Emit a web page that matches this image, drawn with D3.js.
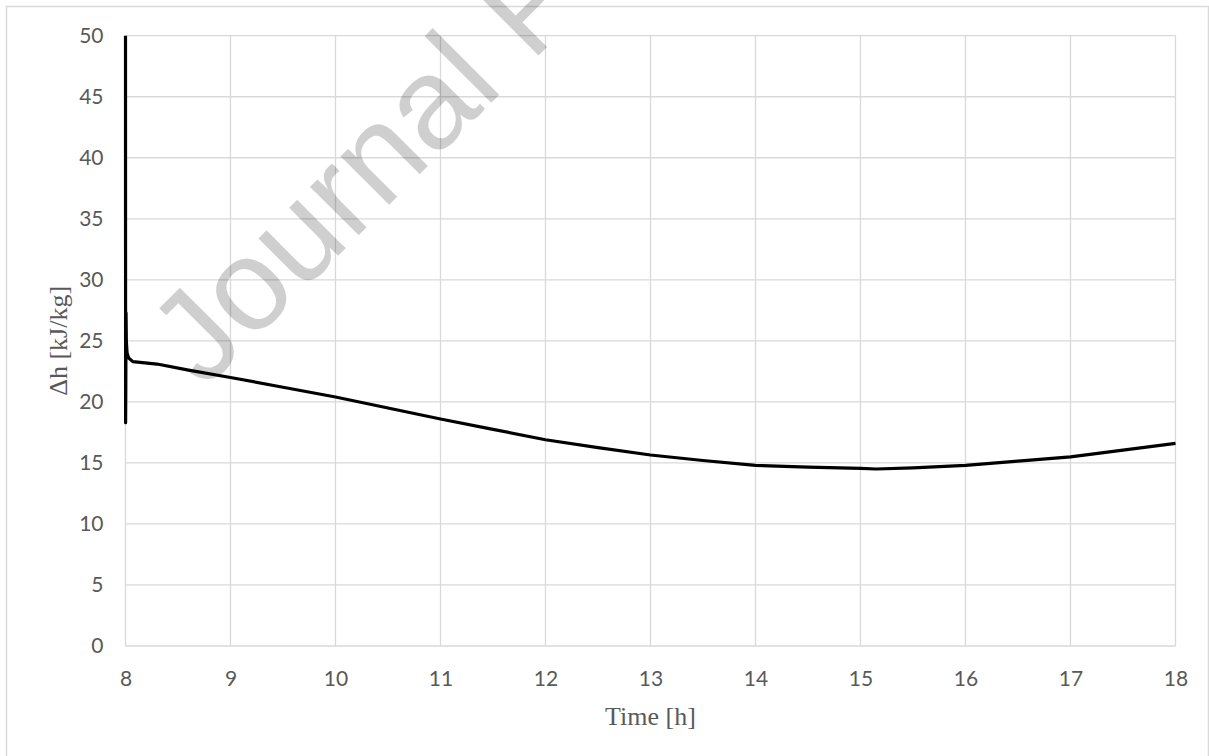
<!DOCTYPE html>
<html>
<head>
<meta charset="utf-8">
<script src="https://cdn.jsdelivr.net/npm/d3@7"></script>
<style>
  body { margin: 0; background: #fff; }
  svg { display: block; }
</style>
</head>
<body>
<svg id="svg"></svg>
<script>
var width = 1209;
var height = 756;

// time in hours, enthalpy difference in kJ/kg
var times = [8, 8.001, 8.003, 8.005, 8.008, 8.015, 8.03, 8.07, 8.3, 8.6, 9, 9.5, 10, 10.5, 11, 11.5, 12, 12.5, 13, 13.5, 14, 14.5, 15, 15.15, 15.5, 16, 16.5, 17, 17.5, 18];
var dh = [50, 18.3, 21.3, 27.3, 25.0, 24.0, 23.6, 23.3, 23.1, 22.6, 22.0, 21.2, 20.4, 19.5, 18.6, 17.75, 16.9, 16.25, 15.65, 15.2, 14.8, 14.65, 14.55, 14.5, 14.6, 14.8, 15.15, 15.5, 16.05, 16.6];

var xTicks = [8, 9, 10, 11, 12, 13, 14, 15, 16, 17, 18];
var yTicks = [0, 5, 10, 15, 20, 25, 30, 35, 40, 45, 50];

var data = times.map((t, i) => ({ t: t, v: dh[i] }));

var svg = d3.select("#svg")
    .attr("width", width)
    .attr("height", height);

// outer chart border
svg.append("rect")
    .attr("x", 6.5).attr("y", 6.5)
    .attr("width", 1202).attr("height", 770)
    .attr("fill", "none")
    .attr("stroke", "#d9d9d9")
    .attr("stroke-width", 1.5);

var x = d3.scaleLinear().domain([8, 18]).range([125.5, 1175.5]);
var y = d3.scaleLinear().domain([0, 50]).range([646, 35.7]);

// grid
svg.append("g")
    .attr("stroke", "#d9d9d9")
    .attr("stroke-width", 1.3)
  .selectAll()
  .data(yTicks)
  .join("line")
    .attr("x1", x(8)).attr("x2", x(18))
    .attr("y1", d => y(d)).attr("y2", d => y(d));

svg.append("g")
    .attr("stroke", "#d9d9d9")
    .attr("stroke-width", 1.3)
  .selectAll()
  .data(xTicks)
  .join("line")
    .attr("x1", d => x(d)).attr("x2", d => x(d))
    .attr("y1", y(0)).attr("y2", y(50));

// axes (labels only, Excel style)
var xAxis = svg.append("g")
    .attr("transform", `translate(0,${y(0)})`)
    .call(d3.axisBottom(x).tickValues(xTicks).tickSize(0).tickPadding(25).tickFormat(d3.format("d")));
var yAxis = svg.append("g")
    .attr("transform", `translate(${x(8)},0)`)
    .call(d3.axisLeft(y).tickValues(yTicks).tickSize(0).tickPadding(22).tickFormat(d3.format("d")));

[xAxis, yAxis].forEach(a => {
  a.select(".domain").remove();
  a.selectAll("text")
      .attr("fill", "#595959")
      .style("font-family", "Lato, 'Open Sans', sans-serif")
      .style("font-size", "21px");
});

// axis titles
svg.append("text")
    .attr("x", x(13)).attr("y", 725)
    .attr("text-anchor", "middle")
    .attr("fill", "#595959")
    .style("font-family", "'Liberation Serif', 'Times New Roman', serif")
    .style("font-size", "26px")
    .text("Time [h]");

svg.append("text")
    .attr("transform", `translate(67,${(y(0) + y(50)) / 2}) rotate(-90)`)
    .attr("text-anchor", "middle")
    .attr("fill", "#595959")
    .style("font-family", "'Liberation Serif', 'Times New Roman', serif")
    .style("font-size", "26px")
    .text("\u0394h [kJ/kg]");

// data line
var line = d3.line()
    .x(d => x(d.t))
    .y(d => y(d.v));

svg.append("path")
    .datum(data)
    .attr("fill", "none")
    .attr("stroke", "#000")
    .attr("stroke-width", 3.2)
    .attr("stroke-linejoin", "round")
    .attr("d", line);

// watermark
svg.append("text")
    .attr("transform", "translate(204,390) rotate(-45)")
    .attr("fill", "#000")
    .attr("fill-opacity", 0.19)
    .style("font-family", "'Liberation Sans', Arial, sans-serif")
    .style("font-size", "130px")
    .text("Journal Pre-proof");
</script>
</body>
</html>
